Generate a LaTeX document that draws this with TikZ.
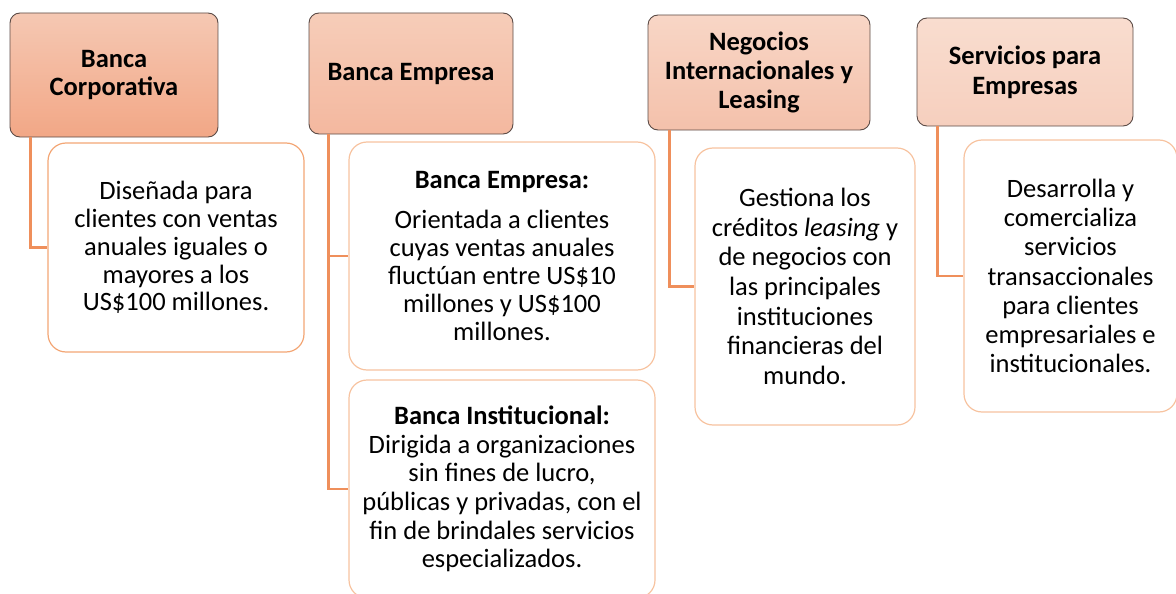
\documentclass[tikz,border=0pt]{standalone}
\usepackage{fontspec}
\setmainfont{Carlito}
\definecolor{conn}{HTML}{EF8F5B}
\definecolor{hborder}{HTML}{5B4B46}
\definecolor{bOne}{HTML}{F3A675}
\definecolor{bOther}{HTML}{F7C3A0}
\definecolor{hAtop}{HTML}{F5C8B3}
\definecolor{hAbot}{HTML}{F2A786}
\definecolor{hBtop}{HTML}{F6CDB9}
\definecolor{hBbot}{HTML}{F4B89F}
\definecolor{hCtop}{HTML}{F8D6C6}
\definecolor{hCbot}{HTML}{F4C1AB}
\definecolor{hDtop}{HTML}{F9DDCF}
\definecolor{hDbot}{HTML}{F6CFBE}
\tikzset{
  head/.style={draw=hborder, line width=0.9pt, rounded corners=10pt, align=center, font=\fontsize{26.5}{28}\selectfont\bfseries, inner sep=0pt},
  desc/.style={draw=bOther, fill=white, line width=1.2pt, rounded corners=18pt, align=center, inner sep=0pt},
  conn/.style={draw=conn, line width=2.4pt}
}
\begin{document}
\begin{tikzpicture}[x=1pt,y=-1pt]
\useasboundingbox (0,0) rectangle (1176,594);
% headers
\node[head, top color=hAtop, bottom color=hAbot, minimum width=208pt, minimum height=124pt] (h1) at (114,75) {Banca\\Corporativa};
\node[head, top color=hBtop, bottom color=hBbot, minimum width=204pt, minimum height=121pt] (h2) at (411,73.5) {Banca Empresa};
\node[head, top color=hCtop, bottom color=hCbot, minimum width=222pt, minimum height=115pt, font=\fontsize{26.5}{29}\selectfont\bfseries] (h3) at (759,72.5) {Negocios\\Internacionales y\\Leasing};
\node[head, top color=hDtop, bottom color=hDbot, minimum width=216pt, minimum height=108pt, font=\fontsize{26.5}{30}\selectfont\bfseries] (h4) at (1025,72) {Servicios para\\Empresas};
% description boxes
\node[desc, draw=bOne, minimum width=256pt, minimum height=209pt, font=\fontsize{26.5}{27.8}\selectfont] (b1) at (176,247.5) {Diseñada para\\clientes con ventas\\anuales iguales o\\mayores a los\\US\$100 millones.};
\node[desc, minimum width=306pt, minimum height=228pt, font=\fontsize{26.5}{28}\selectfont] (b2) at (502,256) {\textbf{Banca Empresa:}\\[12pt]Orientada a clientes\\cuyas ventas anuales\\fluctúan entre US\$10\\millones y US\$100\\millones.};
\node[desc, minimum width=306pt, minimum height=218pt, font=\fontsize{26.5}{28.7}\selectfont] (b3) at (502,489) {\textbf{Banca Institucional:}\\Dirigida a organizaciones\\sin fines de lucro,\\públicas y privadas, con el\\fin de brindales servicios\\especializados.};
\node[desc, minimum width=220pt, minimum height=277pt, font=\fontsize{26.5}{29.7}\selectfont] (b4) at (805,286.5) {Gestiona los\\créditos \textit{leasing} y\\de negocios con\\las principales\\instituciones\\financieras del\\mundo.};
\node[desc, minimum width=213pt, minimum height=272pt, font=\fontsize{26.5}{29.3}\selectfont] (b5) at (1070.5,276) {Desarrolla y\\comercializa\\servicios\\transaccionales\\para clientes\\empresariales e\\institucionales.};
% connectors
\draw[conn] ([xshift=21pt]h1.south west) |- (b1.west);
\draw[conn] ([xshift=20pt]h2.south west) |- (b3.west);
\draw[conn] ([xshift=20pt]h2.south west) |- (b2.west);
\draw[conn] ([xshift=22pt]h3.south west) |- (b4.west);
\draw[conn] ([xshift=21pt]h4.south west) |- (b5.west);
\end{tikzpicture}
\end{document}
